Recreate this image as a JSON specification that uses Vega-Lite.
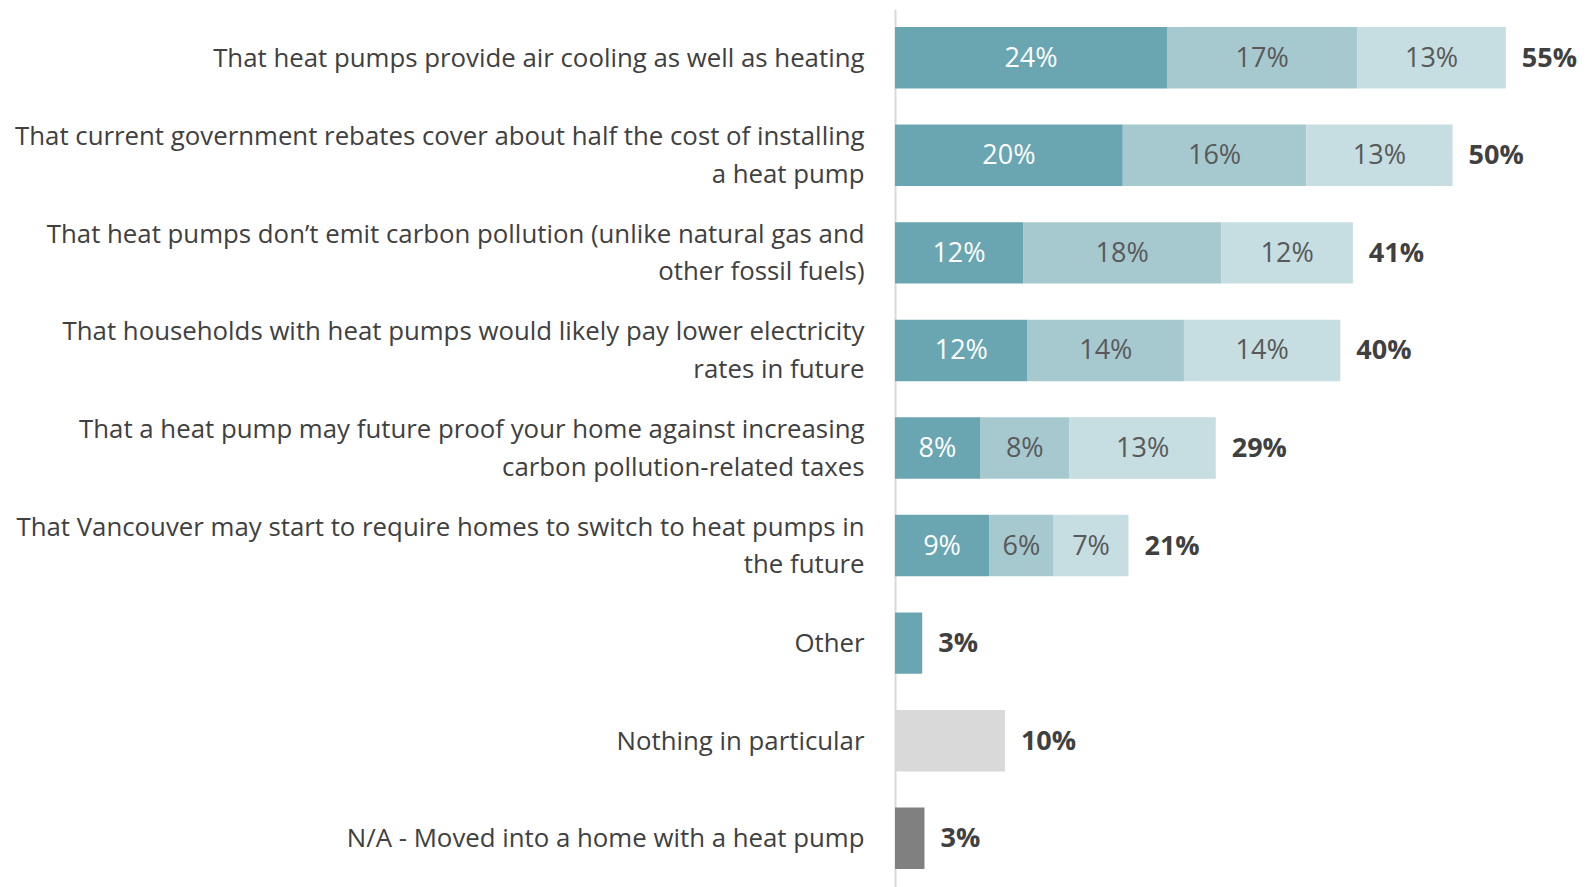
{
  "$schema": "https://vega.github.io/schema/vega-lite/v6.json",
  "autosize": {"type": "none"},
  "width": 694,
  "height": 878,
  "padding": {"left": 895, "top": 9, "right": 0, "bottom": 0},
  "background": "white",
  "config": {"view": {"stroke": null}, "font": "Open Sans"},
  "data": {
    "values": [
      {"category": "That heat pumps provide air cooling as well as heating", "segment": "s1", "value": 24.0, "label": "24%", "total": "55%"},
      {"category": "That heat pumps provide air cooling as well as heating", "segment": "s2", "value": 16.8, "label": "17%", "total": "55%"},
      {"category": "That heat pumps provide air cooling as well as heating", "segment": "s3", "value": 13.1, "label": "13%", "total": "55%"},
      {"category": "That current government rebates cover about half the cost of installing|a heat pump", "segment": "s1", "value": 20.1, "label": "20%", "total": "50%"},
      {"category": "That current government rebates cover about half the cost of installing|a heat pump", "segment": "s2", "value": 16.2, "label": "16%", "total": "50%"},
      {"category": "That current government rebates cover about half the cost of installing|a heat pump", "segment": "s3", "value": 12.9, "label": "13%", "total": "50%"},
      {"category": "That heat pumps don’t emit carbon pollution (unlike natural gas and|other fossil fuels)", "segment": "s1", "value": 11.3, "label": "12%", "total": "41%"},
      {"category": "That heat pumps don’t emit carbon pollution (unlike natural gas and|other fossil fuels)", "segment": "s2", "value": 17.5, "label": "18%", "total": "41%"},
      {"category": "That heat pumps don’t emit carbon pollution (unlike natural gas and|other fossil fuels)", "segment": "s3", "value": 11.6, "label": "12%", "total": "41%"},
      {"category": "That households with heat pumps would likely pay lower electricity|rates in future", "segment": "s1", "value": 11.7, "label": "12%", "total": "40%"},
      {"category": "That households with heat pumps would likely pay lower electricity|rates in future", "segment": "s2", "value": 13.8, "label": "14%", "total": "40%"},
      {"category": "That households with heat pumps would likely pay lower electricity|rates in future", "segment": "s3", "value": 13.8, "label": "14%", "total": "40%"},
      {"category": "That a heat pump may future proof your home against increasing|carbon pollution-related taxes", "segment": "s1", "value": 7.5, "label": "8%", "total": "29%"},
      {"category": "That a heat pump may future proof your home against increasing|carbon pollution-related taxes", "segment": "s2", "value": 7.9, "label": "8%", "total": "29%"},
      {"category": "That a heat pump may future proof your home against increasing|carbon pollution-related taxes", "segment": "s3", "value": 12.9, "label": "13%", "total": "29%"},
      {"category": "That Vancouver may start to require homes to switch to heat pumps in|the future", "segment": "s1", "value": 8.3, "label": "9%", "total": "21%"},
      {"category": "That Vancouver may start to require homes to switch to heat pumps in|the future", "segment": "s2", "value": 5.7, "label": "6%", "total": "21%"},
      {"category": "That Vancouver may start to require homes to switch to heat pumps in|the future", "segment": "s3", "value": 6.6, "label": "7%", "total": "21%"},
      {"category": "Other", "segment": "s1", "value": 2.4, "label": "", "total": "3%"},
      {"category": "Nothing in particular", "segment": "t_nothing", "value": 9.7, "label": "", "total": "10%"},
      {"category": "N/A - Moved into a home with a heat pump", "segment": "u_na", "value": 2.6, "label": "", "total": "3%"}
    ]
  },
  "encoding": {
    "y": {
      "field": "category",
      "type": "nominal",
      "sort": null,
      "scale": {"paddingInner": 0.37, "paddingOuter": 0.185},
      "axis": {
        "title": null,
        "ticks": false,
        "domain": true,
        "domainColor": "#d9d9d9",
        "domainWidth": 2,
        "labelPadding": 31,
        "labelFontSize": 25.8,
        "labelColor": "#404040",
        "labelLimit": 1000,
        "labelLineHeight": 37.5,
        "labelFont": "Open Sans",
        "labelOffset": {"condition": {"test": "indexof(datum.value, '|') >= 0", "value": -18}, "value": 1},
        "labelExpr": "split(datum.label, '|')"
      }
    }
  },
  "layer": [
    {
      "mark": {"type": "bar"},
      "encoding": {
        "x": {"field": "value", "type": "quantitative", "stack": "zero", "scale": {"domain": [0, 61.24], "nice": false}, "axis": null},
        "color": {
          "field": "segment",
          "type": "nominal",
          "scale": {"domain": ["s1", "s2", "s3", "t_nothing", "u_na"], "range": ["#6aa5b2", "#a6c9d0", "#c6dde1", "#d9d9d9", "#808080"]},
          "legend": null
        },
        "order": {"field": "segment", "sort": "ascending"}
      }
    },
    {
      "transform": [
        {"stack": "value", "groupby": ["category"], "sort": [{"field": "segment", "order": "ascending"}], "as": ["x0", "x1"]},
        {"filter": "datum.label != ''"},
        {"calculate": "(datum.x0 + datum.x1) / 2", "as": "mid"}
      ],
      "mark": {"type": "text", "fontSize": 27, "font": "Open Sans", "align": "center", "baseline": "middle", "dy": 1},
      "encoding": {
        "x": {"field": "mid", "type": "quantitative"},
        "text": {"field": "label"},
        "color": {
          "condition": {"test": "datum.segment == 's1'", "value": "white"},
          "value": "#595959"
        }
      }
    },
    {
      "transform": [
        {"aggregate": [{"op": "sum", "field": "value", "as": "end"}], "groupby": ["category", "total"]}
      ],
      "mark": {"type": "text", "fontSize": 27, "font": "Open Sans", "fontWeight": "bold", "align": "left", "baseline": "middle", "dx": 16, "dy": 1, "color": "#404040"},
      "encoding": {
        "x": {"field": "end", "type": "quantitative"},
        "text": {"field": "total"}
      }
    }
  ]
}
